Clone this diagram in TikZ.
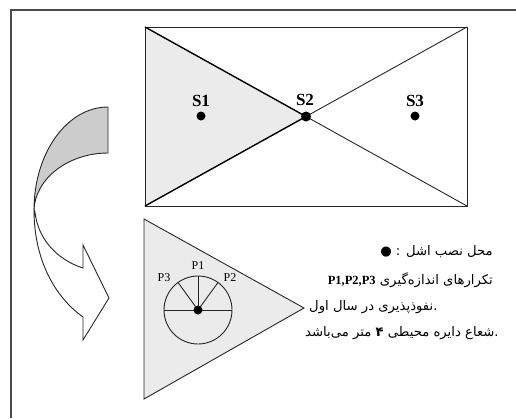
\documentclass[tikz,border=0pt]{standalone}
\usepackage{fontspec}
\setmainfont{Liberation Serif}
\newfontfamily\arabicfont[Script=Arabic]{DejaVu Sans}
\TeXXeTstate=1
\begin{document}
\begin{tikzpicture}[x=1pt,y=-1pt,
  edge/.style={line width=0.9pt, draw=black!85},
  boldedge/.style={line width=1.4pt, draw=black},
  hatch/.style={fill=black!8},
  dotnode/.style={circle, fill=black, inner sep=0pt, minimum size=9pt},
  slabel/.style={font=\fontsize{17}{17}\selectfont\bfseries, inner sep=0pt},
  plabel/.style={font=\fontsize{12}{12}\selectfont, inner sep=0pt},
  legend/.style={inner sep=0pt, font=\arabicfont\fontsize{13.2}{15}\selectfont}
]
\useasboundingbox (0,0) rectangle (516,418);
% frame
\draw[line width=1.3pt, black!70] (11,418) -- (11,10) -- (516,10);

% top rectangle
\coordinate (TL) at (145,27);
\coordinate (TR) at (467,27);
\coordinate (BL) at (145,206);
\coordinate (BR) at (467,206);
\coordinate (c2) at (306,116.5);
\fill[hatch] (TL) -- (c2) -- (BL) -- cycle;
\draw[edge] (TL) rectangle (BR);
\draw[edge] (TR) -- (c2) -- (BR);
\draw[boldedge] (TL) -- (c2) -- (BL);
\node[dotnode] (S1) at (201,116) {};
\node[dotnode, minimum size=10pt] (S2) at (c2) {};
\node[dotnode] (S3) at (415,116) {};
\node[slabel] (lS1) at (201,100.5) {S1};
\node[slabel] (lS2) at (305,99.5) {S2};
\node[slabel] (lS3) at (415,100.5) {S3};

% curved arrow
\path[fill=black!20, edge] (108,107) .. controls (67,107) and (34,153) .. (34,210)
  .. controls (35,179) and (68,153) .. (108,153) -- cycle;
\path[fill=white, edge] (34,210) .. controls (34,260) and (55,297) .. (83,317)
  -- (83,340) -- (109,298) -- (83,245) -- (83,268)
  .. controls (58,260) and (38,240) .. (35,212) -- cycle;

% triangle with circle
\coordinate (T1) at (144,219);
\coordinate (T2) at (144,399);
\coordinate (T3) at (304,308);
\path[hatch, edge] (T1) -- (T3) -- (T2) -- cycle;
\node[circle, draw=black!85, line width=0.9pt, minimum size=68pt, inner sep=0pt] (C) at (198,310) {};
\draw[edge] (C.180) -- (C.0);
\draw[edge] (C.center) -- (C.90);
\draw[edge] (C.center) -- (C.54);
\draw[edge] (C.center) -- (C.126);
\node[dotnode] (P0) at (C.center) {};
\node[plabel] (lP1) at (198,266) {P1};
\node[plabel] (lP2) at (230,278) {P2};
\node[plabel] (lP3) at (164,278) {P3};

% legend
\node[legend, anchor=east] (L1) at (493,252) {● : \beginR محل نصب اشل\endR};
\node[legend, anchor=east] (L2) at (493,280) {{\rmfamily\bfseries\fontsize{12.5}{12}\selectfont P1,P2,P3}\ \beginR تکرارهای اندازه‌گیری\endR};
\node[legend, anchor=west] (L3) at (309,307) {\beginR نفوذپذیری در سال اول\endR.};
\node[legend, anchor=west] (L4) at (305,333) {\beginR شعاع دایره محیطی {\bfseries ۴} متر می‌باشد\endR.};
\end{tikzpicture}
\end{document}
